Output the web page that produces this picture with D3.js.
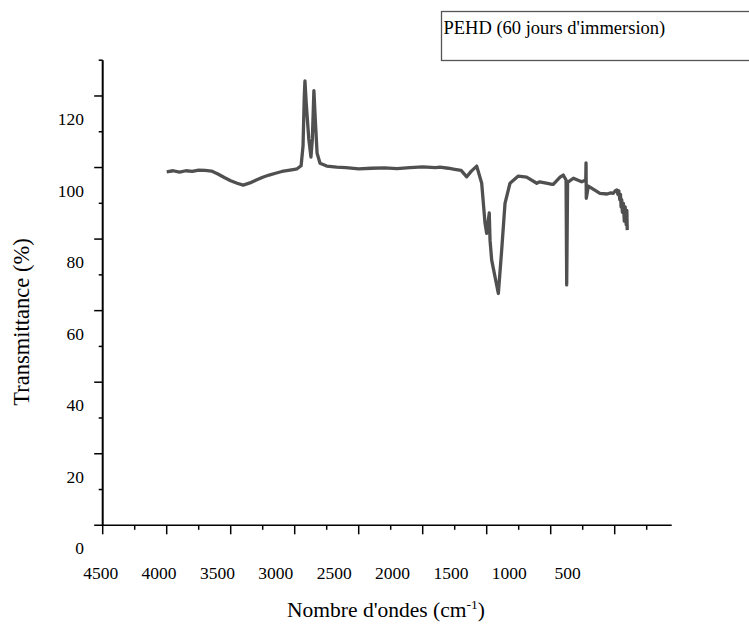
<!DOCTYPE html>
<html>
<head>
<meta charset="utf-8">
<script src="https://cdn.jsdelivr.net/npm/d3@7"></script>
<style>
  body { margin: 0; background: #fff; }
  svg text { font-family: "Liberation Serif", "Times New Roman", Times, "DejaVu Serif", serif; fill: #000; }
</style>
</head>
<body>
<script>
// spectrum: wavenumber (cm-1) and transmittance (%)
let wavenumbers = [4000, 3950, 3900, 3850, 3800, 3750, 3700, 3650, 3600, 3550, 3500, 3450, 3402, 3350, 3300, 3250, 3200, 3150, 3100, 3050, 3000, 2984,
  2950, 2935, 2925, 2920, 2910, 2890, 2873, 2862, 2850, 2840, 2825, 2802, 2750, 2672,
  2600, 2500, 2400, 2300, 2200, 2100, 2000, 1900, 1865, 1800, 1750, 1700, 1656, 1620, 1578,
  1539, 1513, 1500, 1480, 1474, 1461, 1409, 1383, 1357, 1318, 1253, 1188, 1109, 1086, 1005, 980, 927, 902,
  880, 875, 868, 862, 823, 758, 726, 724, 722, 706, 615, 560, 530, 511, 495, 484, 475, 468, 460, 455, 450, 445, 440, 432, 425, 418, 410, 405, 402];
let transmittance = [98.8, 99.1, 98.7, 99.1, 98.9, 99.3, 99.2, 99.0, 98.2, 97.2, 96.3, 95.6, 95.1, 95.7, 96.5, 97.3, 97.9, 98.4, 98.9, 99.2, 99.5, 99.6,
  100.5, 106, 120, 124.2, 118, 108, 102.9, 108, 121.5, 114, 104, 101.2, 100.4, 100.1,
  100.0, 99.6, 99.8, 99.9, 99.7, 100.0, 100.2, 100.0, 100.1, 99.8, 99.5, 99.2, 97.4, 99.0, 100.4,
  95.6, 84.4, 81.6, 87.3, 79.7, 74.1, 64.8, 76.9, 90.0, 95.6, 97.6, 97.3, 95.6, 96.0, 95.4, 95.3, 97.3, 97.9,
  96.5, 67.2, 96.0, 96.0, 97.0, 96.0, 96.5, 101.3, 91.4, 94.8, 92.8, 92.6, 92.9, 92.8, 93.5, 93.7, 92.5, 93.5, 91.0, 92.5, 89.0, 91.0, 87.5, 90.0, 85.0, 89.0, 84.0, 88.0, 82.5];

let xMajorTicks = [4500, 4000, 3500, 3000, 2500, 2000, 1500, 1000, 500];
let xMinorTicks = [4250, 3750, 3250, 2750, 2250, 1750, 1250, 750, 250];
let xTickLabels = ["4500", "4000", "3500", "3000", "2500", "2000", "1500", "1000", "500"];
let yMajorTicks = [20, 40, 60, 80, 100, 120];
let yMinorTicks = [10, 30, 50, 70, 90, 110, 130];
let yTickLabels = ["0", "20", "40", "60", "80", "100", "120"];
let yLabelValues = [0, 20, 40, 60, 80, 100, 120];
let legendLabel = "PEHD (60 jours d'immersion)";

let width = 749, height = 624;
let serif = "'Liberation Serif', 'Times New Roman', Times, 'DejaVu Serif', serif";

const svg = d3.select("body").append("svg")
  .attr("width", width)
  .attr("height", height)
  .attr("font-family", serif);

//scales
let x = d3.scaleLinear().domain([4500, 0]).range([102.7, 678.7]);
let y = d3.scaleLinear().domain([0, 130]).range([525.3, 60.2]);
// tick labels in the picture sit on their own, narrower spacing
let xLabelPos = d3.scaleLinear().domain([4500, 500]).range([100.7, 567.7]);

let data = wavenumbers.map((w, i) => ({ w: w, t: transmittance[i] }));

//axis lines
svg.append("line")
  .attr("x1", x(4500)).attr("x2", x(4500))
  .attr("y1", y(130)).attr("y2", y(0))
  .attr("stroke", "#000").attr("stroke-width", 2);

svg.append("line")
  .attr("x1", x(4500) - 8.5).attr("x2", 671.7)
  .attr("y1", y(0)).attr("y2", y(0))
  .attr("stroke", "#000").attr("stroke-width", 1.5);

//y ticks
svg.selectAll(".ymaj").data(yMajorTicks).enter().append("line")
  .attr("class", "ymaj")
  .attr("x1", x(4500) - 8.5).attr("x2", x(4500))
  .attr("y1", d => y(d)).attr("y2", d => y(d))
  .attr("stroke", "#000").attr("stroke-width", 1.5);

svg.selectAll(".ymin").data(yMinorTicks).enter().append("line")
  .attr("class", "ymin")
  .attr("x1", x(4500) - 4).attr("x2", x(4500))
  .attr("y1", d => y(d)).attr("y2", d => y(d))
  .attr("stroke", "#000").attr("stroke-width", 1.5);

svg.selectAll(".ylab").data(yLabelValues).enter().append("text")
  .attr("class", "ylab")
  .attr("x", 84)
  .attr("y", d => y(d) + 29)
  .attr("text-anchor", "end")
  .style("font-family", serif)
  .style("font-size", "17.5px")
  .text((d, i) => yTickLabels[i]);

//x ticks
svg.selectAll(".xmaj").data(xMajorTicks).enter().append("line")
  .attr("class", "xmaj")
  .attr("x1", d => x(d)).attr("x2", d => x(d))
  .attr("y1", y(0)).attr("y2", y(0) + 9)
  .attr("stroke", "#000").attr("stroke-width", 1.5);

svg.selectAll(".xmin").data(xMinorTicks).enter().append("line")
  .attr("class", "xmin")
  .attr("x1", d => x(d)).attr("x2", d => x(d))
  .attr("y1", y(0)).attr("y2", y(0) + 4.5)
  .attr("stroke", "#000").attr("stroke-width", 1.5);

svg.selectAll(".xlab").data(xMajorTicks).enter().append("text")
  .attr("class", "xlab")
  .attr("x", d => xLabelPos(d))
  .attr("y", 579)
  .attr("text-anchor", "middle")
  .style("font-family", serif)
  .style("font-size", "17.5px")
  .text((d, i) => xTickLabels[i]);

//axis titles
let xt = svg.append("text")
  .attr("x", 386)
  .attr("y", 617)
  .attr("text-anchor", "middle")
  .style("font-family", serif)
  .style("font-size", "21.5px");
xt.append("tspan").text("Nombre d'ondes (cm");
xt.append("tspan").attr("dy", -8).style("font-size", "13.5px").text("-1");
xt.append("tspan").attr("dy", 8).text(")");

svg.append("text")
  .attr("transform", "translate(29,322) rotate(-90)")
  .attr("text-anchor", "middle")
  .style("font-family", serif)
  .style("font-size", "22.5px")
  .text("Transmittance (%)");

//spectrum
let line = d3.line()
  .x(d => x(d.w))
  .y(d => y(d.t));

svg.append("path")
  .datum(data)
  .attr("d", line)
  .attr("fill", "none")
  .attr("stroke", "#505050")
  .attr("stroke-width", 3.3)
  .attr("stroke-linejoin", "round");

//legend box
svg.append("rect")
  .attr("x", 441.5).attr("y", 11.5)
  .attr("width", 320).attr("height", 49)
  .attr("fill", "#fff")
  .attr("stroke", "#555").attr("stroke-width", 1.3);

svg.append("text")
  .attr("x", 443.5)
  .attr("y", 34)
  .style("font-family", serif)
  .style("font-size", "18.5px")
  .text(legendLabel);
</script>
</body>
</html>
